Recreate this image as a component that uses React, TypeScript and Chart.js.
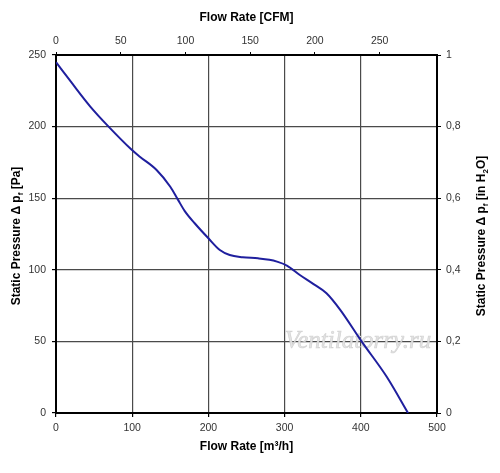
import React, { useEffect, useRef } from "react";
import { Chart, registerables } from "chart.js";

Chart.register(...registerables);

const flowM3h = [0, 20, 45, 69, 99, 110, 132, 150, 160, 169, 182, 200, 215, 228, 245, 265, 280, 290, 303, 320, 338, 355, 373, 401, 434, 462];
const pressurePa = [245, 231, 214, 200, 184, 179, 169.7, 158, 149, 141, 132.5, 122, 113.8, 110.3, 108.8, 108, 107, 105.7, 103, 96.4, 90, 83.6, 72, 50, 25.3, 0];

const flowTicks = [0, 100, 200, 300, 400, 500];
const pressureTicks = [0, 50, 100, 150, 200, 250];
const cfmTicks = [0, 50, 100, 150, 200, 250];
const inH2OTicks = [0, 0.2, 0.4, 0.6, 0.8, 1];

const M3H_TO_CFM = 0.5886;
const FONT = "'Liberation Sans', Arial, sans-serif";

type Part = { t: string; sub?: boolean };

function drawRotatedTitle(ctx: CanvasRenderingContext2D, cx: number, cy: number, parts: Part[]) {
  ctx.save();
  ctx.translate(cx, cy);
  ctx.rotate(-Math.PI / 2);
  ctx.fillStyle = "#000";
  ctx.textBaseline = "middle";
  ctx.textAlign = "left";
  const mainF = `bold 12px ${FONT}`;
  const subF = `bold 8px ${FONT}`;
  let total = 0;
  for (const p of parts) {
    ctx.font = p.sub ? subF : mainF;
    total += ctx.measureText(p.t).width;
  }
  let x = -total / 2;
  for (const p of parts) {
    ctx.font = p.sub ? subF : mainF;
    ctx.fillText(p.t, x, p.sub ? 4 : 0);
    x += ctx.measureText(p.t).width;
  }
  ctx.restore();
}

const titlesPlugin = {
  id: "customTitles",
  beforeDatasetsDraw(chart: any) {
    const ctx = chart.ctx as CanvasRenderingContext2D;
    ctx.save();
    ctx.font = `italic 25px 'Liberation Serif', serif`;
    ctx.textAlign = "center";
    ctx.textBaseline = "middle";
    ctx.fillStyle = "rgba(225,225,225,0.95)";
    ctx.fillText("Ventilatorry.ru", 358, 341);
    ctx.strokeStyle = "rgba(190,190,190,0.6)";
    ctx.lineWidth = 0.6;
    ctx.strokeText("Ventilatorry.ru", 358, 341);
    ctx.restore();
  },
  afterDraw(chart: any) {
    const ctx = chart.ctx as CanvasRenderingContext2D;
    drawRotatedTitle(ctx, 17, 236, [
      { t: "Static Pressure Δ p" },
      { t: "f", sub: true },
      { t: " [Pa]" },
    ]);
    drawRotatedTitle(ctx, 482, 236, [
      { t: "Static Pressure Δ p" },
      { t: "f", sub: true },
      { t: " [in H" },
      { t: "2", sub: true },
      { t: "O]" },
    ]);
  },
};

export default function App() {
  const ref = useRef<HTMLCanvasElement | null>(null);

  useEffect(() => {
    if (!ref.current) return;
    const tickFont = { family: FONT, size: 10.5 };
    const titleFont = { family: FONT, size: 12, weight: "bold" as const };
    const chart = new Chart(ref.current, {
      type: "scatter",
      data: {
        datasets: [
          {
            data: flowM3h.map((x, i) => ({ x, y: pressurePa[i] })),
            showLine: true,
            borderColor: "#1f1f9e",
            borderWidth: 2,
            pointRadius: 0,
            cubicInterpolationMode: "monotone",
            xAxisID: "x",
            yAxisID: "y",
          },
        ],
      },
      plugins: [titlesPlugin],
      options: {
        animation: false,
        responsive: true,
        maintainAspectRatio: false,
        layout: { padding: 0 },
        plugins: { legend: { display: false }, tooltip: { enabled: false } },
        scales: {
          x: {
            type: "linear",
            position: "bottom",
            min: 0,
            max: 500,
            afterBuildTicks: (a: any) => { a.ticks = flowTicks.map((v) => ({ value: v })); },
            afterFit: (a: any) => { a.height = 60; },
            ticks: { color: "#333", font: tickFont, padding: 5, maxRotation: 0 },
            grid: { color: "#4a4a4a", lineWidth: 1.2, tickLength: 4, tickColor: "#000" },
            border: { color: "#000", width: 2 },
            title: { display: true, text: "Flow Rate [m³/h]", color: "#000", font: titleFont, padding: { top: 4, bottom: 19 } },
          },
          xTop: {
            type: "linear",
            position: "top",
            min: 0,
            max: 500 * M3H_TO_CFM,
            afterBuildTicks: (a: any) => { a.ticks = cfmTicks.map((v) => ({ value: v })); },
            afterFit: (a: any) => { a.height = 55; },
            ticks: { color: "#333", font: tickFont, padding: 5, maxRotation: 0 },
            grid: { drawOnChartArea: false, tickLength: 3, tickColor: "#000" },
            border: { color: "#000", width: 2 },
            title: { display: true, text: "Flow Rate [CFM]", color: "#000", font: titleFont, padding: { top: 10, bottom: 4 } },
          },
          y: {
            type: "linear",
            position: "left",
            min: 0,
            max: 250,
            afterBuildTicks: (a: any) => { a.ticks = pressureTicks.map((v) => ({ value: v })); },
            afterFit: (a: any) => { a.width = 56; },
            ticks: { color: "#333", font: tickFont, padding: 6 },
            grid: { color: "#4a4a4a", lineWidth: 1.2, tickLength: 4, tickColor: "#000" },
            border: { color: "#000", width: 2 },
          },
          yRight: {
            type: "linear",
            position: "right",
            min: 0,
            max: 1,
            afterBuildTicks: (a: any) => { a.ticks = inH2OTicks.map((v) => ({ value: v })); },
            afterFit: (a: any) => { a.width = 63; },
            ticks: {
              color: "#333",
              font: tickFont,
              padding: 5,
              callback: (v: any) => String(v).replace(".", ","),
            },
            grid: { drawOnChartArea: false, tickLength: 4, tickColor: "#000" },
            border: { color: "#000", width: 2 },
          },
        },
      } as any,
    });
    return () => chart.destroy();
  }, []);

  return (
    <div style={{ position: "absolute", left: 0, top: 0, width: 500, height: 473, background: "#fff" }}>
      <canvas ref={ref} />
    </div>
  );
}
